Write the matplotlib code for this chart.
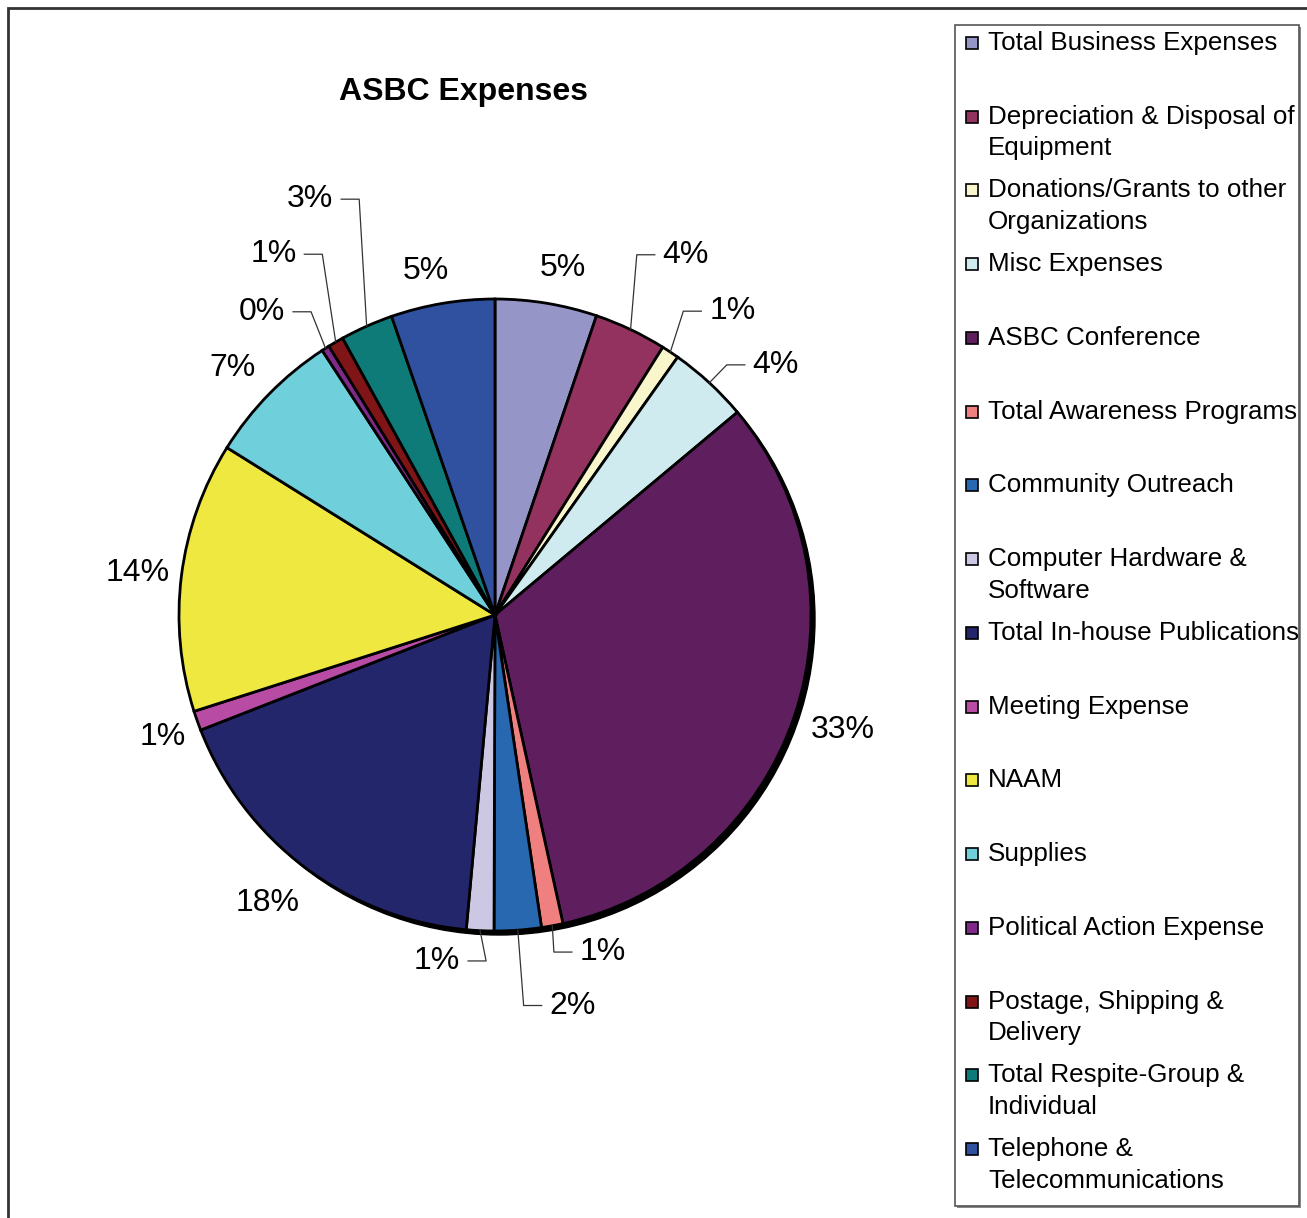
import numpy as np
import matplotlib
matplotlib.use("Agg")
import matplotlib.pyplot as plt
from matplotlib.patches import Rectangle, Circle

plt.rcParams['font.family'] = ['Liberation Sans', 'DejaVu Sans']

# data (share of total expenses, %)
categories = [
    "Total Business Expenses",
    "Depreciation & Disposal of\nEquipment",
    "Donations/Grants to other\nOrganizations",
    "Misc Expenses",
    "ASBC Conference",
    "Total Awareness Programs",
    "Community Outreach",
    "Computer Hardware &\nSoftware",
    "Total In-house Publications",
    "Meeting Expense",
    "NAAM",
    "Supplies",
    "Political Action Expense",
    "Postage, Shipping &\nDelivery",
    "Total Respite-Group &\nIndividual",
    "Telephone &\nTelecommunications",
]
values = [5.2, 3.7, 0.9, 4.1, 32.6, 1.1, 2.4, 1.4, 17.6, 1.0, 13.8, 6.9, 0.4, 0.8, 2.7, 5.3]
colors = ["#9595c8", "#93325f", "#faf6cc", "#cfebef", "#5f1f5f", "#f08080",
          "#2868b0", "#ccc8e4", "#24266b", "#b84ca4", "#eee840", "#6fcfdb",
          "#7f2a8a", "#7f1517", "#0e7b78", "#3050a0"]

# label layout: radius (in pie radii), angular shift (deg), leader line?
lab_r = [1.12, 1.29, 1.22, 1.19, 1.16, 1.12, 1.26, 1.11, 1.16, 1.12, 1.14, 1.14, 1.21, 1.34, 1.44, 1.11]
lab_shift = [1.7, 2.5, 4.3, 5.6, -0.5, -7.3, -7.1, 6.8, 1.4, -0.7, -0.4, -1.2, -5.1, -1.3, 0.0, -1.8]
leader = [False, True, True, True, False, True, True, True, False, False, False, False, True, True, True, False]

W, H = 1307, 1218
fig = plt.figure(figsize=(W / 100, H / 100), dpi=100)

# outer frame
fig.patches.append(Rectangle((8 / W, -0.01), 1.1, 1 - 8 / H + 0.01, transform=fig.transFigure,
                             fill=False, edgecolor="#333333", linewidth=2))

cx, cy, R = 495, 615, 316
ax = fig.add_axes([(cx - R) / W, (H - cy - R) / H, 2 * R / W, 2 * R / H])
ax.set_aspect("equal")
ax.axis("off")
px = 1.0 / R

# shadow
ax.add_patch(Circle((4 * px, -4 * px), 1.0, color="black", zorder=0, clip_on=False))
ax.pie(values, colors=colors, startangle=90, counterclock=False, radius=1.0,
       wedgeprops=dict(edgecolor="black", linewidth=2.0), frame=False)
ax.set_xlim(-1, 1)
ax.set_ylim(-1, 1)

total = sum(values)
cum = np.cumsum([0] + values)
half_w = 24 * px
for i, v in enumerate(values):
    mid = (cum[i] + v / 2) / total * 360.0
    a = np.radians(mid + lab_shift[i])
    lx, ly = lab_r[i] * np.sin(a), lab_r[i] * np.cos(a)
    txt = "%d%%" % round(v / total * 100)
    ax.text(lx, ly, txt, ha="center", va="center", fontsize=23, clip_on=False)
    if leader[i]:
        am = np.radians(mid)
        p0 = (np.sin(am), np.cos(am))
        sgn = 1 if np.sin(am) > 0 else -1
        if i == 6:
            sgn = 1
        if i == 7:
            sgn = -1
        x2 = lx - sgn * (half_w + 7 * px)
        x1 = x2 - sgn * 18 * px
        ax.plot([p0[0], x1, x2], [p0[1], ly, ly], color="#333333", linewidth=0.9,
                clip_on=False, zorder=5)

fig.text(463 / W, 1 - 92 / H, "ASBC Expenses", ha="center", va="center",
         fontsize=23, fontweight="bold")

# legend
lx0, ly0, lx1, ly1 = 955, 25, 1299, 1206
fig.patches.append(Rectangle((lx0 / W + 2 / W, 1 - (ly1 + 2) / H), (lx1 - lx0) / W, (ly1 - ly0) / H,
                             transform=fig.transFigure, facecolor="#888888", edgecolor="none", zorder=1))
fig.patches.append(Rectangle((lx0 / W, 1 - ly1 / H), (lx1 - lx0) / W, (ly1 - ly0) / H,
                             transform=fig.transFigure, facecolor="white", edgecolor="#555555",
                             linewidth=1.2, zorder=2))
step = (1148 - 42) / 15.0
for i, lab in enumerate(categories):
    y = 42 + step * i
    fig.patches.append(Rectangle((966 / W, 1 - (y + 7) / H), 12 / W, 12 / H, transform=fig.transFigure,
                                 facecolor=colors[i], edgecolor="black", linewidth=1.2, zorder=3))
    fig.text(988 / W, 1 - (y - 11) / H, lab, ha="left", va="top", fontsize=18.7,
             linespacing=1.4, zorder=4)

fig.savefig("out.png", dpi=100)
